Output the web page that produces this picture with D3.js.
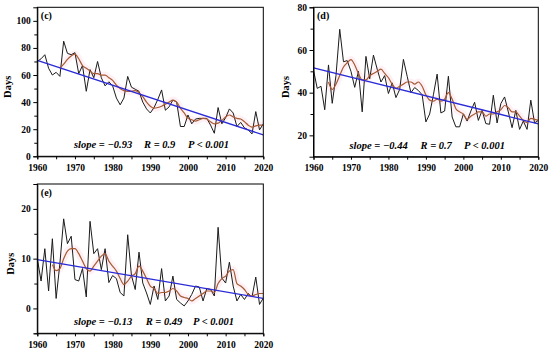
<!DOCTYPE html>
<html>
<head>
<meta charset="utf-8">
<script src="https://cdn.jsdelivr.net/npm/d3@7"></script>
<style>
  body { margin: 0; background: #fff; }
</style>
</head>
<body>
<svg id="chart" width="550" height="354"></svg>
<script>
var serif = "'Liberation Serif', 'Times New Roman', 'DejaVu Serif', serif";

// years on the x axis
var years = d3.range(1960, 2021);
var xTicks = [1960, 1970, 1980, 1990, 2000, 2010, 2020];
var xMinor = [1965, 1975, 1985, 1995, 2005, 2015];

// (c) annual values, smoothed curve, trend end points
var valuesC = [70, 72, 75, 65, 60, 62, 59, 85, 76, 75,
  76.5, 61, 67, 48, 64, 58, 70, 58, 52, 55,
  52, 43, 38, 43, 59, 51, 49.5, 48, 40, 35,
  32, 36, 42, 49, 34, 36.5, 41.5, 40, 22, 22,
  30.5, 24, 27.5, 28, 28, 28, 23, 17, 36, 24,
  28.5, 35, 32, 22, 25, 21, 19.5, 16.5, 33, 19.5,
  24];
var smoothC = [65, 68, 71.5, 74,
  75.5, 72, 67, 65, 63, 61, 61, 60, 60, 58,
  56, 52.5, 50, 48.5, 48, 48, 48.5, 47, 44, 40,
  37, 35.5, 36, 37, 38.5, 40, 41.5, 40, 35.5, 32,
  28, 27, 26, 27, 28, 27.5, 25.5, 24, 24.5, 26.5,
  29, 30.5, 29, 28, 27.5, 25.5, 23, 21.5, 22.5, 23,
  23];
var trendC = [70.8, 15.8];
var yTicksC = [0, 20, 40, 60, 80, 100];
var yMinorC = [10, 30, 50, 70, 90];
var statsC = ["slope = \u22120.93", "R = 0.9", "P < 0.001"];

// (d)
var valuesD = [50.5, 42, 43, 32, 53, 35, 48, 69.7, 54.5, 55,
  50, 42.5, 50, 31, 57, 46.5, 57.6, 51, 45, 48,
  39.6, 44.6, 37.7, 41.5, 55.6, 47.7, 40, 42.4, 41, 39,
  26.3, 30, 39, 48.7, 30.5, 31.4, 47.7, 28.6, 24, 24,
  30, 26.7, 31.4, 35.5, 27, 31.7, 25.5, 25.2, 38.8, 25.8,
  34.9, 38, 31, 23.6, 31.7, 22.8, 26.7, 22.8, 36.5, 25.8,
  27];
var smoothD = [45, 41.5, 44, 48, 52, 54,
  55.5, 53, 49, 46, 46, 48, 49, 50, 51, 49,
  47, 44, 42, 43, 44, 45, 45, 44, 45, 43,
  39, 36.5, 36, 37, 36, 37, 40, 37, 32.5, 31,
  30, 27.5, 29, 30, 31, 31, 29, 30, 30, 31,
  32, 34, 33, 31, 31, 29, 27, 26, 28, 27.5,
  27];
var trendD = [51.6, 25.4];
var yTicksD = [20, 40, 60, 80];
var yMinorD = [30, 50, 70];
var statsD = ["slope = \u22120.44", "R = 0.7", "P < 0.001"];

// (e)
var valuesE = [10, 5.5, 12, 3.5, 14, 2, 9, 18, 13, 14.5,
  5.8, 5.5, 8, 2.3, 17.5, 11, 12, 7.8, 12, 5.2,
  6.6, 6, 3.2, 2.5, 14.8, 6.6, 3.8, 11.3, 5.1, 3.1,
  0.8, 4.5, 1.8, 8, 1.5, 2.5, 6.5, 1.8, 1.1, 0.5,
  1.5, 2.8, 4.5, 4.3, 1.5, 4, 3.8, 2.5, 16.3, 6.1,
  5.1, 9.3, 4.5, 1.5, 2.8, 1.8, 3, 2.3, 6.3, 0.8,
  2.1];
var smoothE = [8.8, 7.6, 8, 10, 11.5, 12,
  12, 11, 9.5, 8, 7.5, 8.5, 9.5, 10.5, 11, 9.5,
  8.5, 7.5, 6, 4.8, 5.5, 6.5, 7, 8.5, 7.5, 6,
  4.5, 4, 3, 3.2, 3.2, 3.5, 4, 3.5, 2.5, 2.2,
  2, 1.5, 2, 2.5, 3, 3.5, 3.5, 3.2, 5, 6,
  6.5, 7.5, 7.8, 5, 4.5, 3.8, 2.8, 2.5, 2.8, 3,
  3];
var trendE = [9.8, 2.0];
var yTicksE = [0, 10, 20];
var yMinorE = [-5, 5, 15, 25];
var statsE = ["slope = \u22120.13", "R = 0.49", "P < 0.001"];

var panels = [
  {label: "(c)", values: valuesC, smooth: smoothC, smoothStart: 1966, trend: trendC,
   yDomain: [0, 110], yTicks: yTicksC, yMinor: yMinorC, stats: statsC,
   left: 37.3, right: 263.3, top: 7.3, bottom: 156.3, daysX: 7, statX: [36.7, 106.7, 150.7]},
  {label: "(d)", values: valuesD, smooth: smoothD, smoothStart: 1964, trend: trendD,
   yDomain: [10, 80], yTicks: yTicksD, yMinor: yMinorD, stats: statsD,
   left: 313.5, right: 538.3, top: 7.3, bottom: 156.7, daysX: 285.7, statX: [36, 107, 150.5]},
  {label: "(e)", values: valuesE, smooth: smoothE, smoothStart: 1964, trend: trendE,
   yDomain: [-5, 25], yTicks: yTicksE, yMinor: yMinorE, stats: statsE,
   left: 37.3, right: 263.3, top: 184, bottom: 333.3, daysX: 10.7, statX: [36.7, 108.4, 155.7]}
];

var svg = d3.select("#chart");
panels.forEach(function(p) { drawPanel(svg, p); });

function drawPanel(svg, p) {
  var x = d3.scaleLinear().domain([1960, 2020]).range([p.left, p.right]);
  var y = d3.scaleLinear().domain(p.yDomain).range([p.bottom, p.top]);
  var g = svg.append("g");

  var clipId = "clip" + p.label.replace(/[()]/g, "");
  g.append("clipPath").attr("id", clipId)
    .append("rect")
    .attr("x", p.left).attr("y", p.top)
    .attr("width", p.right - p.left).attr("height", p.bottom - p.top);

  var plot = g.append("g").attr("clip-path", "url(#" + clipId + ")");
  var smoothYears = p.smooth.map(function(d, i) { return p.smoothStart + i; });

  // faint pink halo under the smoothed curve
  plot.append("path")
    .datum(p.smooth)
    .attr("fill", "none")
    .attr("stroke", "#fbd3df")
    .attr("stroke-opacity", 0.35)
    .attr("stroke-width", 7)
    .attr("d", d3.line()
      .curve(d3.curveMonotoneX)
      .x(function(d, i) { return x(smoothYears[i]); })
      .y(function(d) { return y(d); }));

  plot.append("path")
    .datum(p.values)
    .attr("fill", "none")
    .attr("stroke", "#1b1b1b")
    .attr("stroke-width", 1)
    .attr("d", d3.line()
      .x(function(d, i) { return x(years[i]); })
      .y(function(d) { return y(d); }));

  plot.append("path")
    .datum(p.smooth)
    .attr("fill", "none")
    .attr("stroke", "#a65a33")
    .attr("stroke-width", 1.2)
    .attr("d", d3.line()
      .curve(d3.curveMonotoneX)
      .x(function(d, i) { return x(smoothYears[i]); })
      .y(function(d) { return y(d); }));

  plot.append("path")
    .datum(p.trend)
    .attr("fill", "none")
    .attr("stroke", "#2a2ad8")
    .attr("stroke-width", 1.3)
    .attr("d", d3.line()
      .x(function(d, i) { return x(i === 0 ? 1960 : 2020); })
      .y(function(d) { return y(d); }));

  // frame
  g.append("rect")
    .attr("x", p.left).attr("y", p.top)
    .attr("width", p.right - p.left).attr("height", p.bottom - p.top)
    .attr("fill", "none").attr("stroke", "#000").attr("stroke-width", 1);

  // axes
  var yAxis = g.append("g")
    .attr("transform", "translate(" + p.left + ",0)")
    .call(d3.axisLeft(y).tickValues(p.yTicks).tickSize(4).tickPadding(2.5).tickFormat(d3.format("d")));
  g.append("g")
    .attr("transform", "translate(" + p.left + ",0)")
    .call(d3.axisLeft(y).tickValues(p.yMinor).tickSize(3).tickFormat(""))
    .select(".domain").remove();

  var xAxis = g.append("g")
    .attr("transform", "translate(0," + p.bottom + ")")
    .call(d3.axisBottom(x).tickValues(xTicks).tickSize(3).tickPadding(5).tickFormat(d3.format("d")));
  g.append("g")
    .attr("transform", "translate(0," + p.bottom + ")")
    .call(d3.axisBottom(x).tickValues(xMinor).tickSize(3).tickFormat(""))
    .select(".domain").remove();

  [yAxis, xAxis].forEach(function(a) {
    a.attr("font-family", serif).attr("font-size", 9);
    a.selectAll("text")
      .style("font-family", serif)
      .style("font-weight", "bold")
      .style("font-size", "9.5px")
      .attr("fill", "#000");
  });

  g.append("text")
    .attr("transform", "translate(" + p.daysX + "," + ((p.top + p.bottom) / 2 + 5) + ") rotate(-90)")
    .attr("text-anchor", "middle")
    .attr("dy", "0.35em")
    .style("font-family", serif)
    .style("font-weight", "bold")
    .style("font-size", "10.5px")
    .text("Days");

  g.append("text")
    .attr("x", p.left + 3.5)
    .attr("y", p.top + 12)
    .style("font-family", serif)
    .style("font-weight", "bold")
    .style("font-size", "10px")
    .text(p.label);

  p.stats.forEach(function(s, i) {
    g.append("text")
      .attr("x", p.left + p.statX[i])
      .attr("y", p.bottom - 8)
      .style("font-family", serif)
      .style("font-weight", "bold")
      .style("font-style", "italic")
      .style("font-size", "10.5px")
      .text(s);
  });
}
</script>
</body>
</html>
